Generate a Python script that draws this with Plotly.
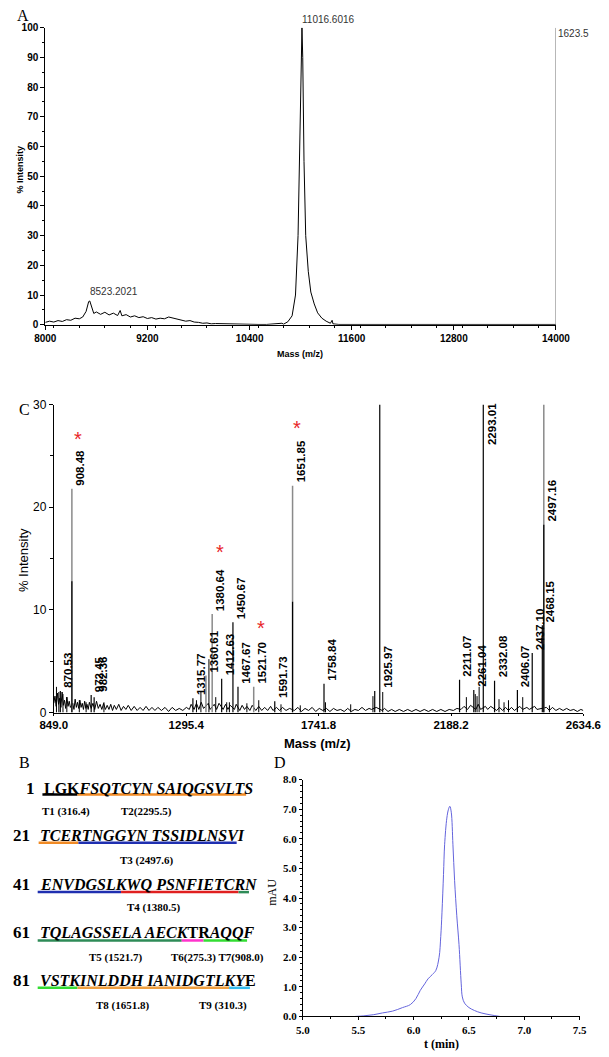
import plotly.graph_objects as go

W, H = 609, 1057

def fx(px):
    return px / W

def fy(py):
    return 1 - py / H

NARROW = "Liberation Sans Narrow, Arial Narrow, Liberation Sans, Arial"
SANS = "Liberation Sans, Arial, sans-serif"
SERIF = "Liberation Serif, Times New Roman, serif"

# ---- panel A: intact protein spectrum ----
a_mass = [8000, 8050, 8100, 8150, 8200, 8250, 8300, 8350, 8400, 8440,
          8480, 8510, 8523, 8545, 8570, 8600, 8650, 8700, 8750, 8800,
          8850, 8880, 8900, 8950, 9000, 9050, 9100, 9150, 9200, 9250,
          9300, 9350, 9400, 9450, 9500, 9550, 9600, 9650, 9700, 9750,
          9800, 9850, 9900, 9950, 10000, 10100, 10200, 10300, 10400, 10500,
          10600, 10700, 10780, 10800, 10850, 10900, 10940, 10970, 10990, 11005,
          11016, 11025, 11040, 11060, 11090, 11120, 11160, 11200, 11250, 11300,
          11350, 11370, 11380, 11450, 11600, 12000, 12500, 13000, 13500, 14000]
a_int = [0.8, 1.2, 0.9, 1.4, 1.1, 1.7, 1.5, 2.2, 2.0, 2.6,
         4.5, 7.8, 8.0, 6.0, 3.8, 4.3, 3.5, 4.2, 3.3, 3.9,
         3.1, 4.8, 3.0, 3.4, 2.6, 3.0, 2.4, 2.7, 2.1, 2.4,
         1.9, 2.2, 2.0, 2.6, 2.2, 2.0, 1.6, 1.2, 1.4, 0.9,
         0.8, 0.5, 0.6, 0.3, 0.4, 0.3, 0.4, 0.2, 0.2, 0.1,
         0.1, 0.2, 0.5, 0.2, 1.0, 3.0, 10, 30, 60, 90,
         100, 90, 55, 30, 18, 11, 7, 4, 2.2, 1.2,
         0.5, 1.5, 0.3, 0.1, 0.1, 0.1, 0.1, 0.1, 0.1, 0.1]
a_labels = ["11016.6016", "8523.2021"]
a_label_mass = [11016, 8523]
a_label_int = [100, 8.3]
a_ticks = [8000, 9200, 10400, 11600, 12800, 14000]

# ---- panel C: tryptic peptide map ----
gray_mz = [910, 1362, 1383, 1523, 1654, 2501]
gray_h = [21.8, 3.6, 9.6, 2.5, 22.1, 100]
black_mz = [871, 910, 975, 985, 1318, 1415, 1453, 1470, 1594, 1654,
            1760, 1931, 1948, 2217, 2265, 2297, 2335, 2412, 2462, 2496, 2501]
black_h = [2.1, 12.8, 1.7, 1.5, 1.4, 3.3, 8.8, 2.5, 1.1, 10.8,
           2.8, 2.1, 100, 3.2, 2.2, 100, 3.1, 2.2, 5.8, 8.5, 18.3]
minor_mz = [858, 866, 880, 893, 935, 958, 1018, 1330, 1345, 1372,
            1395, 1432, 1441, 1500, 1540, 1615, 1680, 1765, 1850, 1925,
            1958, 2240, 2270, 2276, 2283, 2350, 2367, 2382, 2430, 2520]
minor_h = [2.5, 2.0, 1.8, 1.5, 1.2, 1.0, 1.0, 1.2, 2.0, 5.2,
           1.5, 1.0, 1.0, 0.9, 1.2, 0.8, 0.7, 1.0, 0.8, 1.6,
           2.0, 1.5, 1.8, 1.6, 2.5, 1.3, 1.0, 1.2, 1.5, 0.7]
noise_mz = [849, 853, 857, 861, 865, 869, 873, 877, 881, 885,
            889, 893, 897, 901, 905, 913, 917, 921, 925, 929,
            933, 937, 941, 945, 949, 953, 957, 961, 965, 969,
            975, 981, 987, 993, 999, 1005, 1011, 1017, 1023, 1029,
            1035, 1041, 1047, 1053, 1060, 1068, 1076, 1084, 1092, 1100,
            1110, 1120, 1130, 1140, 1150, 1160, 1170, 1180, 1190, 1200,
            1212, 1224, 1236, 1248, 1260, 1272, 1284, 1296, 1306, 1312,
            1322, 1330, 1338, 1346, 1354, 1370, 1376, 1390, 1398, 1406,
            1420, 1428, 1436, 1444, 1458, 1464, 1476, 1484, 1492, 1500,
            1510, 1518, 1530, 1540, 1550, 1560, 1570, 1580, 1588, 1600,
            1610, 1620, 1632, 1644, 1660, 1672, 1684, 1696, 1708, 1720,
            1732, 1744, 1756, 1768, 1780, 1792, 1804, 1816, 1828, 1840,
            1852, 1864, 1876, 1888, 1900, 1912, 1920, 1936, 1956, 1964,
            1976, 1988, 2000, 2014, 2028, 2042, 2056, 2070, 2084, 2098,
            2112, 2126, 2140, 2154, 2168, 2182, 2196, 2208, 2222, 2232,
            2244, 2254, 2272, 2280, 2288, 2304, 2312, 2322, 2342, 2352,
            2362, 2372, 2382, 2392, 2402, 2420, 2430, 2444, 2452, 2470,
            2478, 2510, 2520, 2530, 2542, 2554, 2566, 2578, 2590, 2602,
            2614, 2626, 2634]
noise_h = [0.9, 1.6, 0.6, 1.9, 0.8, 1.4, 0.5, 2.0, 0.7, 1.2,
           0.4, 1.5, 0.6, 1.1, 0.5, 0.9, 0.3, 1.3, 0.5, 1.0,
           0.4, 1.2, 0.5, 0.9, 0.3, 1.1, 0.4, 0.8, 0.3, 1.0,
           0.4, 0.9, 0.3, 1.1, 0.4, 0.8, 0.3, 0.9, 0.3, 0.7,
           0.3, 0.8, 0.2, 0.7, 0.3, 0.8, 0.2, 0.6, 0.3, 0.7,
           0.2, 0.6, 0.2, 0.5, 0.2, 0.6, 0.2, 0.5, 0.2, 0.5,
           0.2, 0.5, 0.1, 0.5, 0.2, 0.4, 0.2, 0.5, 0.3, 0.8,
           0.3, 0.9, 0.3, 1.0, 0.4, 0.9, 0.3, 0.8, 0.3, 0.9,
           0.3, 0.8, 0.3, 0.7, 0.3, 0.8, 0.2, 0.7, 0.3, 0.6,
           0.2, 0.7, 0.2, 0.6, 0.2, 0.5, 0.2, 0.6, 0.2, 0.5,
           0.2, 0.5, 0.2, 0.4, 0.2, 0.5, 0.1, 0.4, 0.2, 0.5,
           0.1, 0.4, 0.2, 0.4, 0.1, 0.4, 0.2, 0.3, 0.1, 0.4,
           0.1, 0.3, 0.2, 0.5, 0.2, 0.4, 0.3, 0.5, 0.2, 0.4,
           0.1, 0.3, 0.1, 0.3, 0.1, 0.3, 0.1, 0.3, 0.1, 0.3,
           0.1, 0.3, 0.1, 0.3, 0.1, 0.3, 0.2, 0.4, 0.3, 0.6,
           0.3, 0.7, 0.3, 0.8, 0.3, 0.6, 0.3, 0.6, 0.2, 0.5,
           0.2, 0.5, 0.2, 0.5, 0.2, 0.6, 0.3, 0.5, 0.3, 0.6,
           0.3, 0.5, 0.2, 0.5, 0.2, 0.4, 0.2, 0.4, 0.2, 0.3,
           0.1, 0.3, 0.2]
c_labels = ["870.53", "908.48", "972.45", "982.36", "1315.77", "1360.61",
            "1380.64", "1412.63", "1450.67", "1467.67", "1521.70", "1591.73",
            "1651.85", "1758.84", "1925.97", "2211.07", "2261.04", "2293.01",
            "2332.08", "2406.07", "2437.10", "2468.15", "2497.16"]
c_label_mz = [871, 910, 975, 985, 1318, 1362, 1383, 1415, 1453, 1470, 1523, 1594,
              1654, 1760, 1948, 2217, 2265, 2297, 2335, 2412, 2462, 2496, 2501]
c_label_h = [2.1, 21.8, 1.7, 1.7, 1.4, 3.6, 9.6, 3.3, 8.8, 2.5, 2.5, 1.1,
             22.1, 2.8, 2.1, 3.2, 2.2, 25.8, 3.1, 2.2, 5.8, 8.5, 18.3]
star_mz = [930, 1408, 1549, 1670, 2297, 2501]
star_h = [26.7, 15.6, 8.2, 27.7, 32.2, 31.5]
c_ticks = [849.0, 1295.4, 1741.8, 2188.2, 2634.6]

# ---- panel D: HPLC trace ----
d_t = [5.47, 5.55, 5.64, 5.72, 5.81, 5.9, 5.97, 6.02, 6.06, 6.1,
       6.13, 6.17, 6.2, 6.23, 6.245, 6.256, 6.27, 6.28, 6.3, 6.315,
       6.327, 6.34, 6.355, 6.37, 6.39, 6.41, 6.43, 6.44, 6.46, 6.5,
       6.55, 6.61, 6.7, 6.78]
d_mau = [0.0, 0.02, 0.06, 0.12, 0.18, 0.3, 0.4, 0.6, 0.88, 1.1,
         1.27, 1.42, 1.55, 2.0, 2.7, 3.5, 4.8, 5.8, 6.7, 7.0,
         7.1, 6.9, 5.8, 4.6, 3.4, 2.43, 1.1, 0.66, 0.45, 0.3,
         0.2, 0.12, 0.05, 0.0]

# ---- panel B: sequence with tryptic fragments ----
seq_start = ["1", "21", "41", "61", "81"]
seq_text = ["<b>LGK<i>FSQTCYN SAIQGSVLTS</i></b>",
            "<b><i>TCERTNGGYN TSSIDLNSVI</i></b>",
            "<b><i>ENVDGSLKWQ PSNFIETCRN</i></b>",
            "<b><i>TQLAGSSELA AECK</i>TR<i>AQQF</i></b>",
            "<b><i>VSTKINLDDH IANIDGTLKY</i>E</b>"]
frag_names = ["T1 (316.4)", "T2(2295.5)", "T3 (2497.6)", "T4 (1380.5)",
              "T5 (1521.7)", "T6(275.3) T7(908.0)", "T8 (1651.8)", "T9 (310.3)"]
# underline segments per row: (start px, end px, colour)
underlines = [
    [(30, 67, "#000000"), (67, 245, "#f08a24")],
    [(26, 68, "#f08a24"), (68, 235, "#1f2fb0")],
    [(25, 113, "#1f2fb0"), (113, 237, "#e02020"), (237, 248, "#2e8b57")],
    [(25, 177, "#2e8b57"), (177, 200, "#ff33cc"), (200, 246, "#33dd33")],
    [(25, 67, "#33dd33"), (67, 227, "#f0a040"), (227, 249, "#33bbee")],
]


def sticks(xs, hs):
    x, y = [], []
    for m, h in zip(xs, hs):
        x += [m, m, None]
        y += [0, h, None]
    return x, y


def label(text, px, py, font, angle=0, xa="center", ya="middle"):
    return dict(x=fx(px), y=fy(py), xref="paper", yref="paper", text=text,
                showarrow=False, textangle=angle, xanchor=xa, yanchor=ya, font=font)


fig = go.Figure()

fig.add_trace(go.Scatter(x=a_mass, y=a_int, mode="lines",
                         line=dict(color="black", width=1), xaxis="x", yaxis="y"))

fig.add_trace(go.Scatter(x=noise_mz, y=noise_h, mode="lines",
                         line=dict(color="black", width=1), xaxis="x2", yaxis="y2"))
mx, my = sticks(minor_mz, minor_h)
fig.add_trace(go.Scatter(x=mx, y=my, mode="lines",
                         line=dict(color="black", width=1), xaxis="x2", yaxis="y2"))
gx, gy = sticks(gray_mz, gray_h)
fig.add_trace(go.Scatter(x=gx, y=gy, mode="lines",
                         line=dict(color="#8a8a8a", width=1.5), xaxis="x2", yaxis="y2"))
bx, by = sticks(black_mz, black_h)
fig.add_trace(go.Scatter(x=bx, y=by, mode="lines",
                         line=dict(color="black", width=1.2), xaxis="x2", yaxis="y2"))

fig.add_trace(go.Scatter(x=d_t, y=d_mau, mode="lines", line_shape="spline",
                         line=dict(color="#6464dc", width=1), xaxis="x3", yaxis="y3"))

ann = []
# panel letters
for letter, px, py in [("A", 1, 9), ("C", 3, 408), ("B", 3, 766), ("D", 272, 766)]:
    ann.append(label(letter, px, py, dict(family=SERIF, size=16, color="black"), xa="left"))

# panel A texts
for t, m, v in zip(a_labels, a_label_mass, a_label_int):
    ann.append(dict(x=m, y=v, xref="x", yref="y", text=t, showarrow=False,
                    xanchor="left", yanchor="bottom", xshift=-2, yshift=1,
                    font=dict(family=NARROW, size=10, color="#333")))
ann.append(label("1623.5", W, 27, dict(family=NARROW, size=10, color="#333"), xa="right"))
ann.append(label("<b>Mass (m/z)</b>", 302, 352, dict(family=NARROW, size=9, color="black")))
ann.append(label("<b>% Intensity</b>", 6, 165, dict(family=NARROW, size=9, color="black"), angle=-90))

# panel C texts
for t, m, v in zip(c_labels, c_label_mz, c_label_h):
    ann.append(dict(x=m, y=v, xref="x2", yref="y2", text=t, showarrow=False,
                    textangle=-90, xanchor="left", yanchor="bottom", yshift=1,
                    font=dict(family=SANS, size=11.5, color="black", weight="bold")))
for m, v in zip(star_mz, star_h):
    ann.append(dict(x=m, y=v, xref="x2", yref="y2", text="*", showarrow=False,
                    xanchor="center", yanchor="middle",
                    font=dict(family=SANS, size=20, color="#e8262a")))
ann.append(label("<b>Mass (m/z)</b>", 320, 746, dict(family=SANS, size=13, color="black")))
ann.append(label("% Intensity", 10, 560, dict(family=SANS, size=13, color="black"), angle=-90))

# panel B texts
seq_rows_y = [792, 840, 889, 938, 987]
seq_rows_x = [30, 25, 25, 25, 25]
for num, txt, yy, xx in zip(seq_start, seq_text, seq_rows_y, seq_rows_x):
    ann.append(label("<b>" + num + "</b>", xx - 6, yy,
                     dict(family=SERIF, size=17, color="black"), xa="right"))
    ann.append(label(txt, xx, yy, dict(family=SERIF, size=16, color="black"), xa="left"))
frag_pos = [(55, 815), (140, 815), (140, 865), (148, 913),
            (108, 963), (215, 963), (115, 1012), (221, 1012)]
for name, (px, py) in zip(frag_names, frag_pos):
    ann.append(label("<b>" + name + "</b>", px, py, dict(family=SERIF, size=11, color="black")))

# panel D texts
ann.append(label("<b>t (min)</b>", 451, 1051, dict(family=SERIF, size=12, color="black")))
ann.append(label("mAU", 272, 897, dict(family=SERIF, size=12, color="black"), angle=-90))

shapes = []
underline_y = [798, 847, 897, 946, 994]
for row, yy in zip(underlines, underline_y):
    for x0, x1, col in row:
        shapes.append(dict(type="line", xref="paper", yref="paper",
                           x0=fx(x0), x1=fx(x1), y0=fy(yy), y1=fy(yy),
                           line=dict(color=col, width=2.5)))
shapes.append(dict(type="line", xref="x", yref="y", x0=14000, x1=14000, y0=0, y1=100,
                   line=dict(color="#777", width=1)))

axis_common = dict(showgrid=False, zeroline=False, showline=True, linecolor="black",
                   linewidth=1, ticks="outside", tickcolor="black", mirror=False)

fig.update_layout(
    width=W, height=H, margin=dict(l=0, r=0, t=0, b=0),
    paper_bgcolor="white", plot_bgcolor="white", showlegend=False,
    annotations=ann, shapes=shapes,
    xaxis=dict(domain=[fx(33), fx(572)], range=[8000, 14000], anchor="y",
               tickvals=a_ticks, tickformat="d", ticklen=4,
               minor=dict(dtick=300, ticklen=2, ticks="outside", tickcolor="black"),
               tickfont=dict(family=NARROW, size=10, color="black", weight="bold"),
               **axis_common),
    yaxis=dict(domain=[fy(322), fy(21)], range=[0, 100], anchor="x",
               dtick=10, ticklen=4,
               minor=dict(dtick=5, ticklen=2, ticks="outside", tickcolor="black"),
               tickfont=dict(family=NARROW, size=10, color="black", weight="bold"),
               **axis_common),
    xaxis2=dict(domain=[fx(42), fx(601)], range=[849, 2634.6], anchor="y2",
                tickvals=c_ticks, ticktext=["849.0", "1295.4", "1741.8", "2188.2", "2634.6"],
                ticklen=2,
                tickfont=dict(family=SANS, size=11.5, color="black", weight="bold"),
                **axis_common),
    yaxis2=dict(domain=[fy(715), fy(403)], range=[0, 30], anchor="x2",
                tickvals=[0, 10, 20, 30], ticklen=4,
                minor=dict(dtick=5, ticklen=3, ticks="outside", tickcolor="black"),
                tickfont=dict(family=SANS, size=12, color="black"),
                **axis_common),
    xaxis3=dict(domain=[fx(305), fx(597)], range=[5, 7.5], anchor="y3",
                dtick=0.5, tickformat=".1f", ticklen=3,
                minor=dict(dtick=0.25, ticklen=2, ticks="outside", tickcolor="black"),
                tickfont=dict(family=SERIF, size=11, color="black", weight="bold"),
                **axis_common),
    yaxis3=dict(domain=[fy(1023), fy(783)], range=[0, 8], anchor="x3",
                dtick=1, tickformat=".1f", ticklen=3,
                minor=dict(dtick=0.2, ticklen=2, ticks="outside", tickcolor="black"),
                tickfont=dict(family=SERIF, size=11, color="black", weight="bold"),
                **axis_common),
)

fig.write_html("out.html", config={"displayModeBar": False},
               post_script="document.body.style.margin='0';")
